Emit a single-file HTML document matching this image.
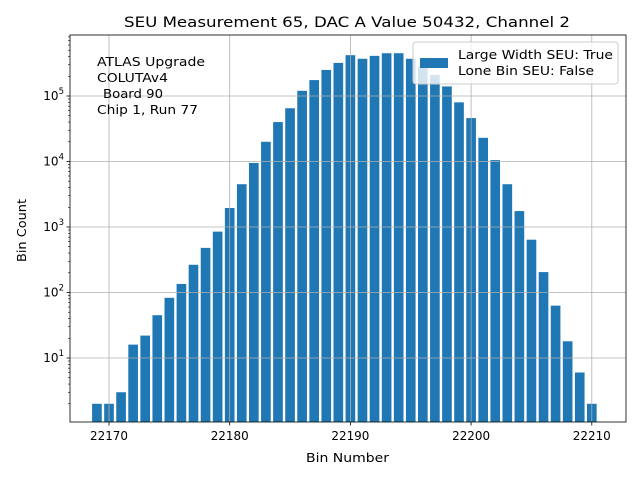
<!DOCTYPE html>
<html><head><meta charset="utf-8"><style>
body{margin:0;background:#fff;font-family:"Liberation Sans","DejaVu Sans",sans-serif}
svg text{font-family:"DejaVu Sans","Liberation Sans",sans-serif}
</style></head><body>
<svg id="c" width="640" height="480" xmlns="http://www.w3.org/2000/svg"></svg>
<script>
const bins=[22169,22170,22171,22172,22173,22174,22175,22176,22177,22178,22179,22180,22181,22182,22183,22184,22185,22186,22187,22188,22189,22190,22191,22192,22193,22194,22195,22196,22197,22198,22199,22200,22201,22202,22203,22204,22205,22206,22207,22208,22209,22210];
const counts=[2,2,3,16,22,45,83,135,265,480,850,1950,4500,9500,20000,40000,65000,120000,175000,250000,320000,420000,370000,410000,450000,450000,370000,280000,210000,140000,80000,46000,23000,10500,4500,1750,640,205,63,18,6,2];
const xTicks=[22170,22180,22190,22200,22210];
const yTicks=[1,2,3,4,5];
const L=70,R=626,T=35,B=422;
const x=v=>109+(v-22170)*12.07;
const y=v=>358-(Math.log10(v)-1)*65.5;
const s=document.getElementById('c');const NS='http://www.w3.org/2000/svg';
function el(t,a,txt){const e=document.createElementNS(NS,t);for(const k in a)e.setAttribute(k,a[k]);if(txt!==undefined)e.textContent=txt;s.appendChild(e);return e;}
bins.forEach((b,i)=>{const r=el('rect',{x:x(b-0.4),width:0.8*12.07,y:y(counts[i]),height:B-y(counts[i]),fill:'#1f77b4'});
});
xTicks.forEach(t=>{const g=el('line',{x1:x(t),x2:x(t),y1:T,y2:B,stroke:'#b0b0b0','stroke-width':0.8});
});
yTicks.forEach(p=>{const g=el('line',{x1:L,x2:R,y1:y(Math.pow(10,p)),y2:y(Math.pow(10,p)),stroke:'#b0b0b0','stroke-width':0.8});
});
const fr=el('rect',{x:L,y:T,width:R-L,height:B-T,fill:'none',stroke:'#000','stroke-width':0.8});

xTicks.forEach(t=>{el('line',{x1:x(t),x2:x(t),y1:B,y2:B+3.5,stroke:'#000','stroke-width':0.8});
const tx=el('text',{x:x(t),y:B+18,'font-size':12,'text-anchor':'middle',textLength:38,lengthAdjust:'spacingAndGlyphs'},t);
});
yTicks.forEach(p=>{const yy=y(Math.pow(10,p));el('line',{x1:L-3.5,x2:L,y1:yy,y2:yy,stroke:'#000','stroke-width':0.8});
const tx=el('text',{x:L-6,y:yy+4,'font-size':12,'text-anchor':'end'});tx.innerHTML='10<tspan dy="-6" font-size="8.5">'+p+'</tspan>';
});
for(let d=0;d<6;d++)for(let m=2;m<10;m++){const v=m*Math.pow(10,d);if(v<1.05||v>8.5e5)continue;el('line',{x1:L-2,x2:L,y1:y(v),y2:y(v),stroke:'#000','stroke-width':0.6});}
</script>
<svg width="640" height="480" style="position:absolute;left:0;top:0" xmlns="http://www.w3.org/2000/svg">
<text x="124" y="27" font-size="14.4" textLength="446" lengthAdjust="spacingAndGlyphs">SEU Measurement 65, DAC A Value 50432, Channel 2</text>
<text x="306" y="462" font-size="12" textLength="83" lengthAdjust="spacingAndGlyphs">Bin Number</text>
<text transform="translate(26,262) rotate(-90)" font-size="12" textLength="63" lengthAdjust="spacingAndGlyphs">Bin Count</text>
<g font-size="12">
<text x="97" y="66" textLength="108" lengthAdjust="spacingAndGlyphs">ATLAS Upgrade</text>
<text x="97" y="82" textLength="71" lengthAdjust="spacingAndGlyphs">COLUTAv4</text>
<text x="103" y="98" textLength="60" lengthAdjust="spacingAndGlyphs">Board 90</text>
<text x="97" y="114" textLength="101" lengthAdjust="spacingAndGlyphs">Chip 1, Run 77</text></g>
<g>
<rect x="413" y="42" width="205" height="42" rx="3" fill="#fff" fill-opacity="0.8" stroke="#ccc"/>
<rect x="420" y="58" width="28" height="10" fill="#1f77b4"/>
<text x="458" y="59" font-size="12" textLength="155" lengthAdjust="spacingAndGlyphs">Large Width SEU: True</text>
<text x="458" y="75" font-size="12" textLength="136" lengthAdjust="spacingAndGlyphs">Lone Bin SEU: False</text></g>
</svg>
</body></html>
